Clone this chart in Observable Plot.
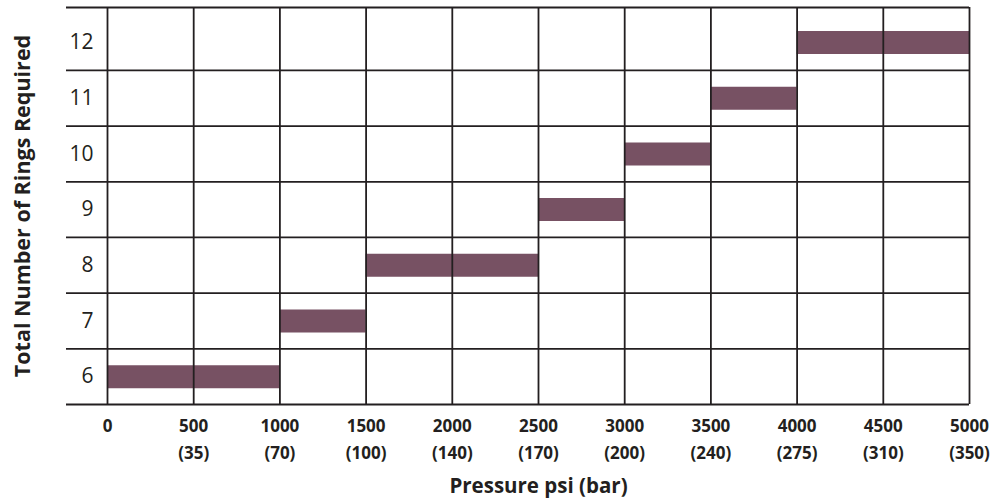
<!DOCTYPE html>
<html>
<head>
<meta charset="utf-8">
<script src="https://cdn.jsdelivr.net/npm/d3@7"></script>
<script src="https://cdn.jsdelivr.net/npm/@observablehq/plot@0.6"></script>
<style>
  html, body { margin: 0; padding: 0; background: #fff; }
  #chart svg { display: block; }
  g[aria-label="x-axis tick label"] { font-family: "Open Sans", sans-serif; font-weight: bold; font-size: 17px; }
  g[aria-label="y-axis tick label"] { font-family: "Open Sans", sans-serif; font-size: 21px; }
  g[aria-label="x-axis label"] { font-family: "Open Sans", sans-serif; font-weight: bold; font-size: 20.5px; }
  g[aria-label="y-axis label"] { font-family: "Open Sans", sans-serif; font-weight: bold; font-size: 21.5px; }
</style>
</head>
<body>
<div id="chart"></div>
<script>
// Data
const rings = [6, 7, 8, 9, 10, 11, 12];
const pressureFrom = [0, 1000, 1500, 2500, 3000, 3500, 4000];
const pressureTo = [1000, 1500, 2500, 3000, 3500, 4000, 5000];
const psiTicks = [0, 500, 1000, 1500, 2000, 2500, 3000, 3500, 4000, 4500, 5000];
const barTicks = ["", "(35)", "(70)", "(100)", "(140)", "(170)", "(200)", "(240)", "(275)", "(310)", "(350)"];
const rowEdges = [5.5, 6.5, 7.5, 8.5, 9.5, 10.5, 11.5, 12.63];

const bars = rings.map((r, i) => ({rings: r, from: pressureFrom[i], to: pressureTo[i]}));

const chart = Plot.plot({
  width: 991,
  height: 502,
  marginTop: 7,
  marginBottom: 98,
  marginLeft: 107,
  marginRight: 22,
  style: {background: "#fff", color: "#231f20"},
  x: {domain: [0, 5000]},
  y: {domain: [5.5, 12.63]},
  marks: [
    Plot.ruleY(bars, {y: "rings", x1: "from", x2: "to", stroke: "#775163", strokeWidth: 23}),
    Plot.ruleX(psiTicks, {stroke: "#231f20", strokeWidth: 1.8}),
    Plot.ruleY(rowEdges, {stroke: "#231f20", strokeWidth: 1.8, insetLeft: -41}),
    Plot.axisX(psiTicks, {
      tickSize: 0,
      tickPadding: 8,
      lineHeight: 1.6,
      tickFormat: (d) => {
        const b = barTicks[psiTicks.indexOf(d)];
        return b ? `${d}\n${b}` : `${d}`;
      },
      label: "Pressure psi (bar)",
      labelAnchor: "center",
      labelArrow: "none",
      labelOffset: 88,
      fill: "#231f20"
    }),
    Plot.axisY(rings, {
      tickSize: 0,
      tickPadding: 14,
      tickFormat: (d) => `${d}`,
      label: "Total Number of Rings Required",
      labelAnchor: "center",
      labelArrow: "none",
      labelOffset: 93,
      fill: "#231f20"
    })
  ]
});
document.getElementById("chart").appendChild(chart);
</script>
</body>
</html>
